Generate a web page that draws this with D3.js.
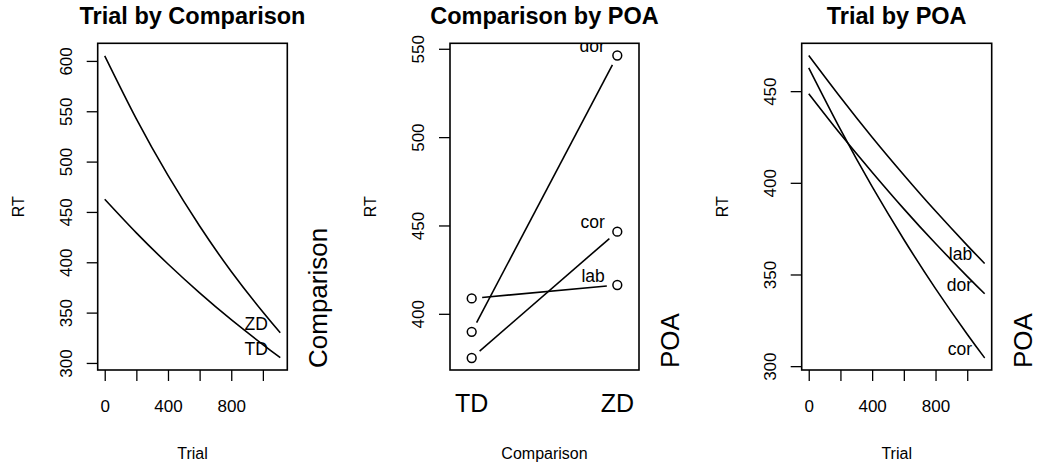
<!DOCTYPE html>
<html>
<head>
<meta charset="utf-8">
<script src="https://cdn.jsdelivr.net/npm/d3@7"></script>
<style>
  html, body { margin: 0; padding: 0; background: #fff; }
  svg { display: block; font-family: "Liberation Sans", Arial, Helvetica, sans-serif; }
  text { fill: #000; }
</style>
</head>
<body>
<svg id="chart" width="1037" height="465"></svg>
<script>
// Fitted RT curves over trial number
const trialPts = [0, 200, 400, 600, 800, 1000, 1110];
const rtZD = [605.0, 542.4, 486.3, 436.0, 390.9, 350.5, 330.0];
const rtTD = [462.6, 429.2, 398.3, 369.6, 343.0, 318.3, 305.3];

// Mean RT by comparison and place of articulation
const comparisons = ["TD", "ZD"];
const poaNames = ["dor", "cor", "lab"];
const poaTD = [389.8, 375.0, 408.7];
const poaZD = [546.2, 446.5, 416.3];

// Fitted RT curves over trial number, per POA
const rtLab = [469.5, 446.7, 424.9, 404.3, 384.6, 365.9, 356.0];
const rtDor = [448.6, 426.6, 405.8, 385.8, 366.9, 349.0, 339.5];
const rtCor = [462.7, 429.1, 397.9, 369.1, 342.3, 317.4, 304.5];

// Axis ticks
const trialTicks = [0, 200, 400, 600, 800, 1000];
const trialTickLabels = ["0", "", "400", "", "800", ""];
const rtTicks1 = [300, 350, 400, 450, 500, 550, 600];
const rtTicks2 = [400, 450, 500, 550];
const rtTicks3 = [300, 350, 400, 450];

const svg = d3.select("#chart");
const FONT_TICK = 17, FONT_LAB = 16, FONT_TITLE = 23.5, FONT_SIDE = 26, FONT_TXT = 17.5;
const plotTop = 43.3, plotBottom = 370;

function panel(opts) {
  const g = svg.append("g");
  const { left, right } = opts;
  const id = "clip" + opts.key;
  svg.append("defs").append("clipPath").attr("id", id)
    .append("rect").attr("x", left).attr("y", plotTop)
    .attr("width", right - left).attr("height", plotBottom - plotTop);

  const y = d3.scaleLinear().domain(opts.yDomain).range([plotBottom, plotTop]);

  // y axis with rotated labels
  const ya = g.append("g").attr("transform", `translate(${left},0)`)
    .call(d3.axisLeft(y).tickValues(opts.yTicks).tickSize(11).tickFormat(d3.format("d")));
  ya.select(".domain").remove();
  ya.selectAll(".tick line").attr("stroke", "#000").attr("stroke-width", 1.3);
  ya.selectAll(".tick text")
    .attr("transform", "rotate(-90)")
    .attr("x", 0).attr("y", -26).attr("dy", 0)
    .attr("text-anchor", "middle")
    .style("font-size", FONT_TICK + "px")
    .style("font-family", "inherit")
    .attr("fill", "#000");

  // title, axis labels
  const cx = (left + right) / 2;
  g.append("text").attr("x", cx).attr("y", 24).attr("text-anchor", "middle")
    .style("font-size", FONT_TITLE + "px").style("font-weight", "bold").text(opts.title);
  g.append("text").attr("x", cx).attr("y", 459).attr("text-anchor", "middle")
    .style("font-size", FONT_LAB + "px").text(opts.xLabel);
  g.append("text").attr("transform", `translate(${left - 74},${(plotTop + plotBottom) / 2}) rotate(-90)`)
    .attr("text-anchor", "middle").style("font-size", FONT_LAB + "px").text("RT");
  g.append("text").attr("transform", `translate(${right + 40},368) rotate(-90)`)
    .attr("text-anchor", "start").style("font-size", FONT_SIDE + "px").text(opts.sideLabel);

  const plot = g.append("g").attr("clip-path", `url(#${id})`);
  opts.draw(g, plot, y, left, right);

  // box
  g.append("rect").attr("x", left).attr("y", plotTop)
    .attr("width", right - left).attr("height", plotBottom - plotTop)
    .attr("fill", "none").attr("stroke", "#000").attr("stroke-width", 1.6);
}

function trialAxis(g, x) {
  const xa = g.append("g").attr("transform", `translate(0,${plotBottom})`)
    .call(d3.axisBottom(x).tickValues(trialTicks).tickSize(11)
      .tickFormat((d, i) => trialTickLabels[i]));
  xa.select(".domain").remove();
  xa.selectAll(".tick line").attr("stroke", "#000").attr("stroke-width", 1.3);
  xa.selectAll(".tick text").attr("y", 41.5).attr("dy", 0)
    .style("font-size", FONT_TICK + "px").style("font-family", "inherit").attr("fill", "#000");
}

function curvePanel(series, names) {
  return (g, plot, y, left, right) => {
    const x = d3.scaleLinear().domain([-44.4, 1154.4]).range([left, right]);
    trialAxis(g, x);
    const line = d3.line().x((d, i) => x(trialPts[i])).y(d => y(d)).curve(d3.curveNatural);
    series.forEach((s, k) => {
      plot.append("path").datum(s).attr("d", line)
        .attr("fill", "none").attr("stroke", "#000").attr("stroke-width", 1.6);
      const n = s.length - 1;
      plot.append("text").attr("x", x(trialPts[n]) - 12.5).attr("y", y(s[n]) - 3)
        .attr("text-anchor", "end").style("font-size", FONT_TXT + "px").text(names[k]);
    });
  };
}

// Panel 1: Trial by Comparison
panel({
  key: 1, left: 97.7, right: 287.3, yDomain: [293, 617.5], yTicks: rtTicks1,
  title: "Trial by Comparison", xLabel: "Trial", sideLabel: "Comparison",
  draw: curvePanel([rtZD, rtTD], ["ZD", "TD"])
});

// Panel 2: Comparison by POA
panel({
  key: 2, left: 450, right: 639, yDomain: [368.2, 553.1], yTicks: rtTicks2,
  title: "Comparison by POA", xLabel: "Comparison", sideLabel: "POA",
  draw: (g, plot, y, left, right) => {
    const x = d3.scalePoint().domain(comparisons).range([left, right]).padding(0.149);
    comparisons.forEach(c => {
      g.append("text").attr("x", x(c)).attr("y", 411.7).attr("text-anchor", "middle")
        .style("font-size", "25px").text(c);
    });
    const gap = 10.5;
    poaNames.forEach((p, i) => {
      const x1 = x("TD"), y1 = y(poaTD[i]), x2 = x("ZD"), y2 = y(poaZD[i]);
      const len = Math.hypot(x2 - x1, y2 - y1), ux = (x2 - x1) / len, uy = (y2 - y1) / len;
      plot.append("line")
        .attr("x1", x1 + ux * gap).attr("y1", y1 + uy * gap)
        .attr("x2", x2 - ux * gap).attr("y2", y2 - uy * gap)
        .attr("stroke", "#000").attr("stroke-width", 1.6);
      [[x1, y1], [x2, y2]].forEach(([px, py]) => {
        plot.append("circle").attr("cx", px).attr("cy", py).attr("r", 4.4)
          .attr("fill", "none").attr("stroke", "#000").attr("stroke-width", 1.5);
      });
      plot.append("text").attr("x", x2 - 12.5).attr("y", y2 - 3.5)
        .attr("text-anchor", "end").style("font-size", FONT_TXT + "px").text(p);
    });
  }
});

// Panel 3: Trial by POA
panel({
  key: 3, left: 801.7, right: 991.7, yDomain: [297.9, 476.1], yTicks: rtTicks3,
  title: "Trial by POA", xLabel: "Trial", sideLabel: "POA",
  draw: curvePanel([rtLab, rtDor, rtCor], ["lab", "dor", "cor"])
});
</script>
</body>
</html>
